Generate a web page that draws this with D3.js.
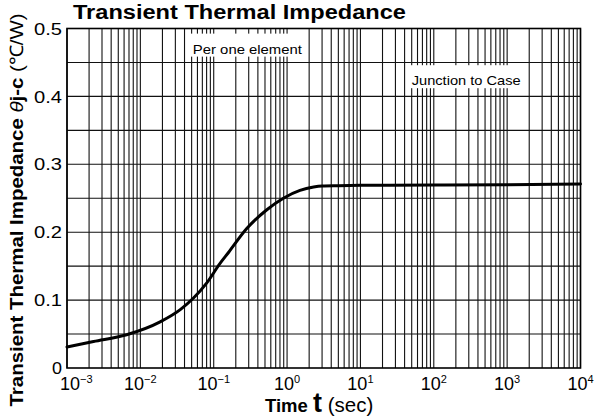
<!DOCTYPE html>
<html><head><meta charset="utf-8">
<script src="https://cdn.jsdelivr.net/npm/d3@7"></script>
<style>
body{margin:0;background:#fff}
svg{display:block}
text{font-family:"Liberation Sans",Arial,Helvetica,sans-serif;fill:#000}
</style>
</head><body>
<svg id="chart" width="594" height="419"></svg>
<script>
// ---- data ----
const timeSec   = [0.001, 0.0023, 0.0065, 0.0186, 0.035, 0.053, 0.08, 0.12, 0.16, 0.28, 0.53, 0.89, 1.5, 2.3, 3, 5, 10, 100, 1000, 10000];
const impedance = [0.031, 0.039, 0.049, 0.068, 0.086, 0.103, 0.125, 0.153, 0.1705, 0.205, 0.233, 0.250, 0.2615, 0.2665, 0.268, 0.2685, 0.269, 0.2695, 0.270, 0.271];
const xTickExponents = ["−3", "−2", "−1", "0", "1", "2", "3", "4"];
const xTickValues = [1e-3, 1e-2, 1e-1, 1e0, 1e1, 1e2, 1e3, 1e4];
const yTickValues = [0, 0.1, 0.2, 0.3, 0.4, 0.5];
const yTickLabels = ["0", "0.1", "0.2", "0.3", "0.4", "0.5"];
const yGridValues = [0.05, 0.1, 0.15, 0.2, 0.25, 0.3, 0.35, 0.4, 0.45];
const titleText = "Transient Thermal Impedance";
const notes = [
  {text: "Per one element", t: 0.052, v: 0.463},
  {text: "Junction to Case", t: 50, v: 0.4165}
];

// ---- layout ----
const svg = d3.select("#chart");
const L = 67, R = 580.5, T = 28.5, B = 368;
const x = d3.scaleLog().domain([1e-3, 1e4]).range([L, R]);
const y = d3.scaleLinear().domain([0, 0.5]).range([B, T]);

// vertical grid (1..9 per decade)
svg.append("g").selectAll("line").data(x.ticks()).join("line")
  .attr("x1", d => x(d)).attr("x2", d => x(d))
  .attr("y1", T).attr("y2", B)
  .attr("stroke", "#111").attr("stroke-width", 1.1);

// horizontal grid
svg.append("g").selectAll("line").data(yGridValues).join("line")
  .attr("x1", L).attr("x2", R)
  .attr("y1", d => y(d)).attr("y2", d => y(d))
  .attr("stroke", "#111").attr("stroke-width", 1.1);

// annotation boxes
const noteG = svg.append("g");
notes.forEach(n => {
  const tx = x(n.t), ty = y(n.v);
  noteG.append("rect").attr("x", tx - 5).attr("y", ty - 20)
    .attr("width", 119).attr("height", 23).attr("fill", "#fff");
  noteG.append("text").attr("x", tx).attr("y", ty)
    .attr("font-size", 13.5)
    .attr("textLength", 109).attr("lengthAdjust", "spacingAndGlyphs")
    .text(n.text);
});

// frame
svg.append("rect").attr("x", L).attr("y", T).attr("width", R - L).attr("height", B - T)
  .attr("fill", "none").attr("stroke", "#000").attr("stroke-width", 1.6);

// curve
const pts = timeSec.map((t, i) => [t, impedance[i]]);
svg.append("path").datum(pts)
  .attr("fill", "none").attr("stroke", "#000").attr("stroke-width", 3)
  .attr("stroke-linejoin", "round").attr("stroke-linecap", "round")
  .attr("d", d3.line().x(d => x(d[0])).y(d => y(d[1])).curve(d3.curveMonotoneX));

// y tick labels
svg.append("g").selectAll("text").data(yTickValues).join("text")
  .attr("x", 62).attr("y", d => y(d)).attr("dy", "0.36em")
  .attr("text-anchor", "end").attr("font-size", 17)
  .attr("textLength", (d, i) => yTickLabels[i].length > 1 ? 28 : 10)
  .attr("lengthAdjust", "spacingAndGlyphs")
  .text((d, i) => yTickLabels[i]);

// x tick labels: 10^n
const xl = svg.append("g").selectAll("text").data(xTickValues).join("text")
  .attr("x", (d, i) => i === 0 ? 60 : x(d))
  .attr("y", 390)
  .attr("text-anchor", (d, i) => i === 0 ? "start" : "middle")
  .attr("font-size", 18);
xl.append("tspan").text("10");
xl.append("tspan").attr("dy", -7).attr("font-size", 11).text((d, i) => xTickExponents[i]);

// title
svg.append("text").attr("x", 73).attr("y", 19)
  .attr("font-size", 19.5).attr("font-weight", "bold")
  .attr("textLength", 333).attr("lengthAdjust", "spacingAndGlyphs")
  .text(titleText);

// x axis label
const xt = svg.append("text").attr("x", 265).attr("y", 412).attr("font-size", 18.5);
xt.append("tspan").attr("font-weight", "bold").text("Time ");
xt.append("tspan").attr("font-weight", "bold").attr("font-size", 27).text("t");
xt.append("tspan").attr("font-size", 20.5).text(" (sec)");

// y axis label
const yt = svg.append("text")
  .attr("transform", "translate(23,210) rotate(-90)")
  .attr("text-anchor", "middle").attr("font-size", 18.5)
  .attr("textLength", 393).attr("lengthAdjust", "spacingAndGlyphs");
yt.append("tspan").attr("font-weight", "bold").text("Transient Thermal Impedance ");
yt.append("tspan").attr("font-style", "italic").text("θ");
yt.append("tspan").attr("font-weight", "bold").text("j-c ");
yt.append("tspan").text("(℃/W)");
</script>
</body></html>
